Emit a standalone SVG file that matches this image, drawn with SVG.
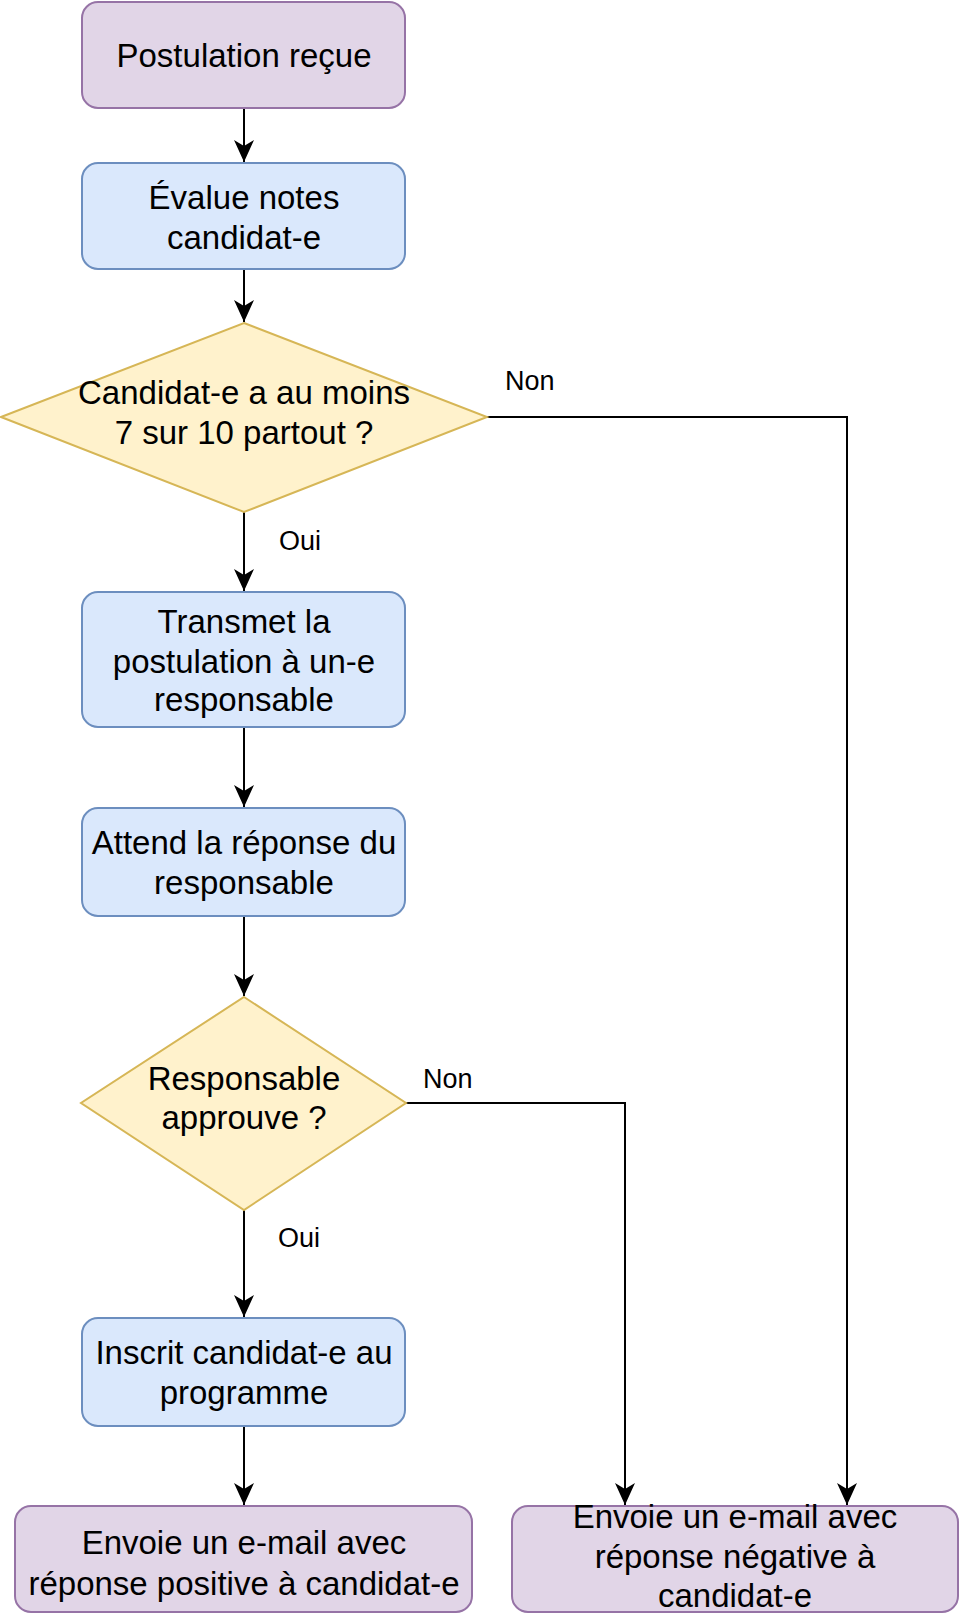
<svg xmlns="http://www.w3.org/2000/svg" width="960" height="1614" viewBox="0 0 960 1614">
<style>
text{font-family:"Liberation Sans",Arial,sans-serif;fill:#000;}
.t{font-size:33px;text-anchor:middle;}
.l{font-size:27px;}
.purple{fill:#e1d5e7;stroke:#9673a6;stroke-width:2;}
.blue{fill:#dae8fc;stroke:#6c8ebf;stroke-width:2;}
.yellow{fill:#fff2cc;stroke:#d6b656;stroke-width:2;}
.edge{fill:none;stroke:#000;stroke-width:2;marker-end:url(#arr);}
</style>
<defs>
<marker id="arr" markerUnits="userSpaceOnUse" viewBox="-24 -12 26 24" refX="0" refY="0" markerWidth="26" markerHeight="24" orient="auto">
<path d="M0,0 L-22,-10 L-16,0 L-22,10 Z" fill="#000"/>
</marker>
</defs>
<rect width="960" height="1614" fill="#fff"/>
<g id="connectors">
<path class="edge" d="M244,108 L244,162"/>
<path class="edge" d="M244,269 L244,322"/>
<path class="edge" d="M244,512 L244,591"/>
<path class="edge" d="M244,727 L244,807"/>
<path class="edge" d="M244,916 L244,996"/>
<path class="edge" d="M244,1210 L244,1317"/>
<path class="edge" d="M244,1426 L244,1505"/>
<path class="edge" d="M487,417 L847,417 L847,1505"/>
<path class="edge" d="M406,1103 L625,1103 L625,1505"/>
<text class="l" x="505" y="390">Non</text>
<text class="l" x="279" y="550">Oui</text>
<text class="l" x="423" y="1088">Non</text>
<text class="l" x="278" y="1247">Oui</text>
</g>
<g id="n1">
<rect class="purple" x="82" y="2" width="323" height="106" rx="16"/>
<text class="t" x="244" y="67">Postulation reçue</text>
</g>
<g id="n2">
<rect class="blue" x="82" y="163" width="323" height="106" rx="16"/>
<text class="t" x="244" y="209">Évalue notes</text>
<text class="t" x="244" y="249">candidat-e</text>
</g>
<g id="d1">
<polygon class="yellow" points="244,323 487,417 244,512 1,417"/>
<text class="t" x="244" y="404">Candidat-e a au moins</text>
<text class="t" x="244" y="444">7 sur 10 partout ?</text>
</g>
<g id="n3">
<rect class="blue" x="82" y="592" width="323" height="135" rx="16"/>
<text class="t" x="244" y="633">Transmet la</text>
<text class="t" x="244" y="673">postulation à un-e</text>
<text class="t" x="244" y="711">responsable</text>
</g>
<g id="n4">
<rect class="blue" x="82" y="808" width="323" height="108" rx="16"/>
<text class="t" x="244" y="854">Attend la réponse du</text>
<text class="t" x="244" y="894">responsable</text>
</g>
<g id="d2">
<polygon class="yellow" points="244,997 406,1103 244,1210 81,1103"/>
<text class="t" x="244" y="1090">Responsable</text>
<text class="t" x="244" y="1129">approuve ?</text>
</g>
<g id="n5">
<rect class="blue" x="82" y="1318" width="323" height="108" rx="16"/>
<text class="t" x="244" y="1364">Inscrit candidat-e au</text>
<text class="t" x="244" y="1404">programme</text>
</g>
<g id="n6">
<rect class="purple" x="15" y="1506" width="457" height="106" rx="16"/>
<text class="t" x="244" y="1554">Envoie un e-mail avec</text>
<text class="t" x="244" y="1595">réponse positive à candidat-e</text>
</g>
<g id="n7">
<rect class="purple" x="512" y="1506" width="446" height="106" rx="16"/>
<text class="t" x="735" y="1528">Envoie un e-mail avec</text>
<text class="t" x="735" y="1568">réponse négative à</text>
<text class="t" x="735" y="1607">candidat-e</text>
</g>
</svg>
